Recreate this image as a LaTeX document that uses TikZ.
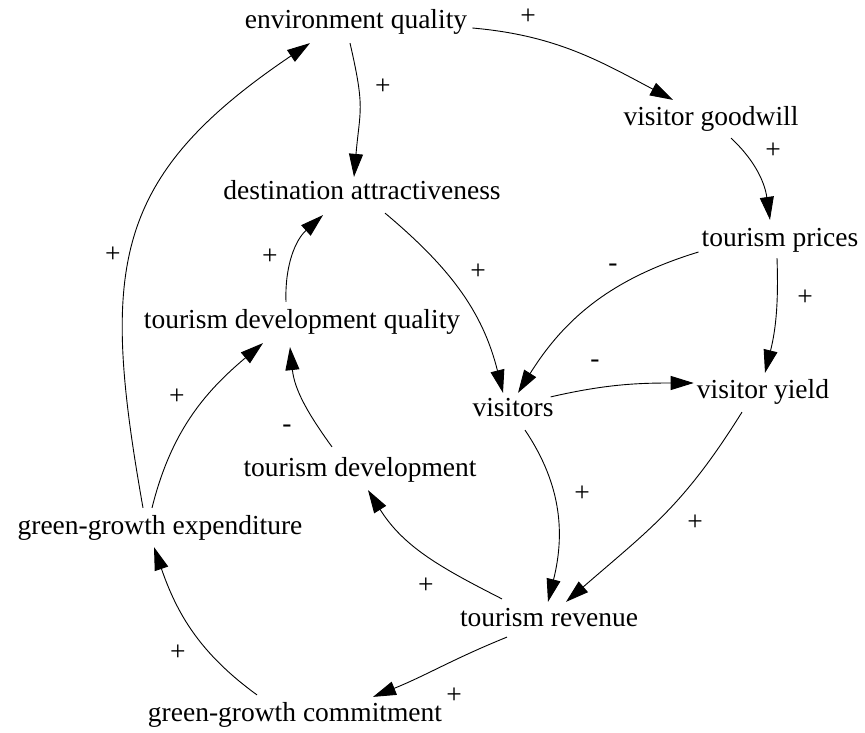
\documentclass[tikz,border=0pt]{standalone}
\usepackage{fontspec}
\setmainfont{Liberation Serif}
\usetikzlibrary{arrows.meta}

\begin{document}
\begin{tikzpicture}[
    x=1pt, y=1pt,
    every node/.style={font=\fontsize{27.5}{32}\selectfont},
    var/.style={inner sep=0pt, text height=19pt, text depth=6.8pt},
    sign/.style={inner sep=0pt},
    link/.style={line width=0.9pt, -{Triangle[length=23pt,width=14pt]}}
]
\useasboundingbox (0,0) rectangle (865,732);

% ---------- variables ----------
\node[var] (envq)     at (356,710) {environment quality};
\node[var] (goodwill) at (711,613) {visitor goodwill};
\node[var] (attract)  at (362,539) {destination attractiveness};
\node[var] (prices)   at (780,492) {tourism prices};
\node[var] (devqual)  at (302,410) {tourism development quality};
\node[var] (visitors) at (513,322) {visitors};
\node[var] (yield)    at (763,340) {visitor yield};
\node[var] (dev)      at (360,262) {tourism development};
\node[var] (ggexp)    at (160,204) {green-growth expenditure};
\node[var] (revenue)  at (549,112) {tourism revenue};
\node[var] (ggcom)    at (295,17)  {green-growth commitment};

% ---------- causal links ----------
\draw[link] ([xshift=5pt,yshift=-6pt]envq.east) to[out=-5,in=152] ([xshift=-38pt,yshift=6pt]goodwill.north);
\draw[link] ([xshift=-6pt,yshift=-8pt]envq.south) to[out=-77,in=85,looseness=1.3] ([xshift=-8pt,yshift=3pt]attract.north);
\draw[link] ([xshift=20pt,yshift=-6pt]goodwill.south) to[out=-43,in=98] ([xshift=-10pt,yshift=7pt]prices.north);
\draw[link] ([xshift=23pt,yshift=-7pt]attract.south) to[out=-40,in=104] ([xshift=-10pt,yshift=4pt]visitors.north);
\draw[link] ([xshift=-3pt,yshift=-12pt]prices.west) to[out=197,in=58] ([xshift=5pt,yshift=4pt]visitors.north);
\draw[link] ([xshift=-3pt,yshift=-5pt]prices.south) to[out=-88,in=76] ([xshift=2pt,yshift=6pt]yield.north);
\draw[link] ([xshift=-3pt]visitors.north east) to[out=13,in=180] ([xshift=-3pt,yshift=9pt]yield.west);
\draw[link] ([xshift=-16pt,yshift=7pt]devqual.north) to[out=92,in=222] ([xshift=-39pt,yshift=-9pt]attract.south);
\draw[link] ([xshift=-17pt,yshift=7pt]ggexp.north) to[out=100,in=214,looseness=1.25] ([xshift=-46pt,yshift=-8pt]envq.south);
\draw[link] ([xshift=-8pt,yshift=7pt]ggexp.north) to[out=76,in=220] ([xshift=-39pt,yshift=-8pt]devqual.south);
\draw[link] ([xshift=-28pt,yshift=10pt]dev.north) to[out=126,in=-84] ([xshift=-12pt,yshift=-12pt]devqual.south);
\draw[link] ([xshift=12pt,yshift=-7pt]visitors.south) to[out=-56,in=76] ([xshift=-1pt,yshift=5pt]revenue.north);
\draw[link] ([xshift=-21pt,yshift=-7pt]yield.south) to[out=-122,in=41,looseness=1.1] ([xshift=17pt,yshift=5pt]revenue.north);
\draw[link] ([xshift=-47pt,yshift=8pt]revenue.north) to[out=153,in=-58] ([xshift=8pt,yshift=-7pt]dev.south);
\draw[link] ([xshift=-42pt,yshift=-4pt]revenue.south) to[out=202,in=22] ([xshift=78pt,yshift=5pt]ggcom.north);
\draw[link] ([xshift=-38pt,yshift=7pt]ggcom.north) to[out=144,in=-71] ([xshift=-6pt,yshift=-6pt]ggexp.south);

% ---------- polarity signs ----------
\node[sign] (s1)  at (528,715) {+};
\node[sign] (s2)  at (383,645) {+};
\node[sign] (s3)  at (773,581) {+};
\node[sign] (s4)  at (478,460) {+};
\node[sign] (s5)  at (613,464) {-};
\node[sign] (s6)  at (805,434) {+};
\node[sign] (s7)  at (595,368) {-};
\node[sign] (s8)  at (270,475) {+};
\node[sign] (s9)  at (113,477) {+};
\node[sign] (s10) at (177,335) {+};
\node[sign] (s11) at (287,303) {-};
\node[sign] (s12) at (582,238) {+};
\node[sign] (s13) at (695,209) {+};
\node[sign] (s14) at (426,146) {+};
\node[sign] (s15) at (454,36)  {+};
\node[sign] (s16) at (178,79)  {+};

\end{tikzpicture}
\end{document}
